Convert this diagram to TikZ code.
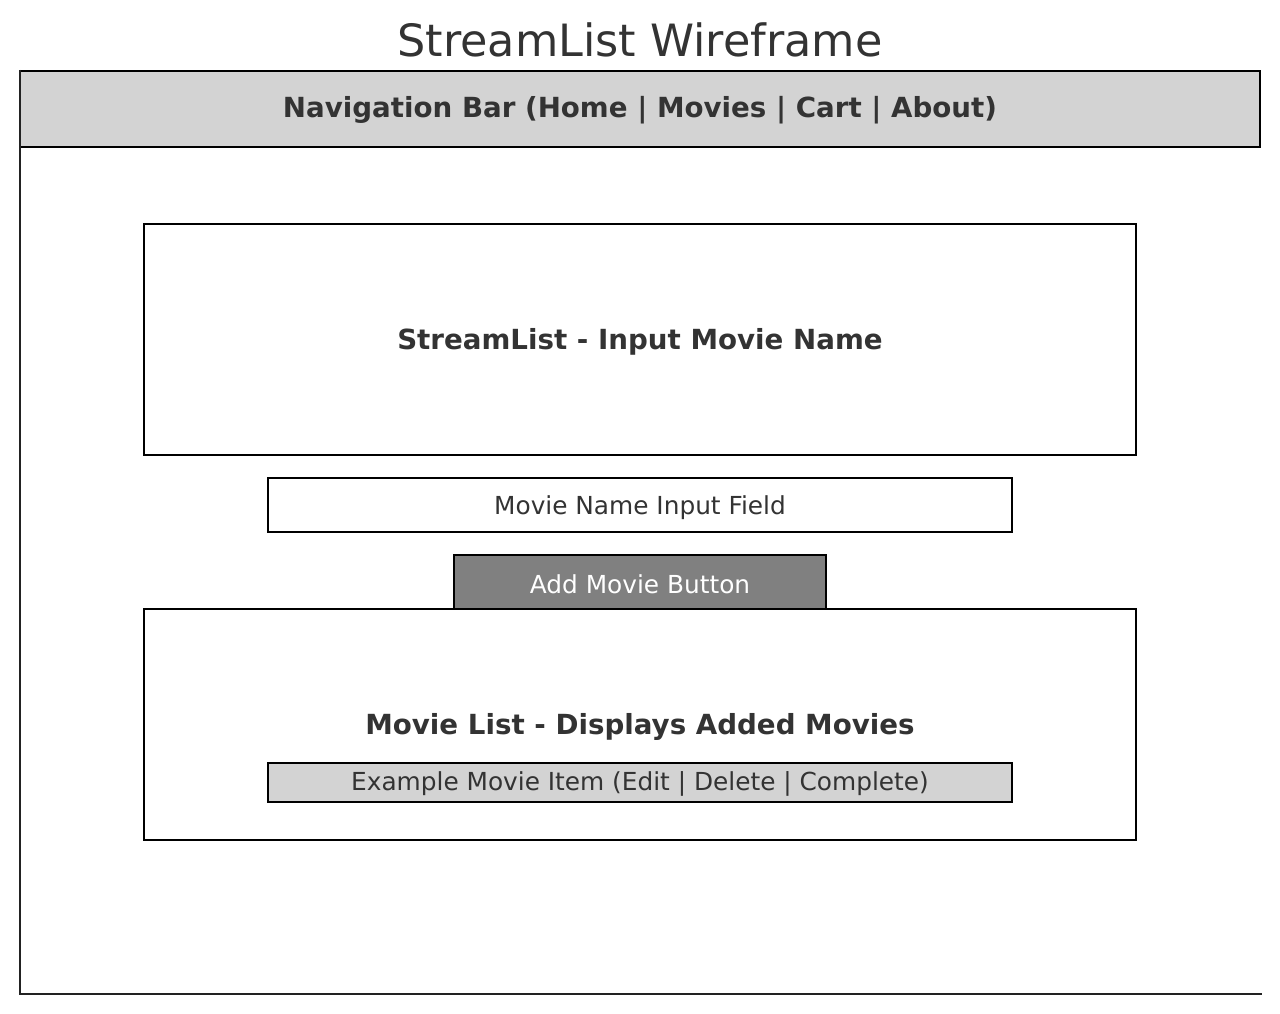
\documentclass[tikz,border=0pt]{standalone}
\usepackage{fontspec}
\setmainfont{DejaVu Sans}
\definecolor{txt}{HTML}{333333}
\definecolor{spine}{HTML}{222222}
\definecolor{lgray}{HTML}{D3D3D3}
\definecolor{mgray}{HTML}{808080}
\begin{document}
\begin{tikzpicture}[x=1pt,y=-1pt,
  box/.style={draw=black,line width=2.7pt},
  titletext/.style={text=txt,font=\fontsize{44.5}{50}\selectfont,inner sep=0pt},
  boldtext/.style={text=txt,font=\fontsize{27.7}{32}\selectfont\bfseries,inner sep=0pt},
  normtext/.style={text=txt,font=\fontsize{24.8}{29}\selectfont,inner sep=0pt},
  spineline/.style={draw=spine,line width=2.7pt}]
\useasboundingbox (0,0) rectangle (1280,1014);
% title
\node[titletext] (title) at (640,39.5) {StreamList Wireframe};
% nav bar
\path[box,fill=lgray] (20,71) rectangle (1260,147);
\node[boldtext] (nav) at (640,110.5) {Navigation Bar (Home | Movies | Cart | About)};
% input section
\path[box] (144,224) rectangle (1136,455);
\node[boldtext] (inhead) at (640,341.5) {StreamList - Input Movie Name};
% input field
\path[box] (268,478) rectangle (1012,532);
\node[normtext] (field) at (640,507.5) {Movie Name Input Field};
% list box
\path[box] (144,609) rectangle (1136,840);
\node[boldtext] (listhead) at (640,726.5) {Movie List - Displays Added Movies};
% button
\path[box,fill=mgray] (454,555) rectangle (826,609);
\node[normtext,text=white] (btn) at (640,584) {Add Movie Button};
% example item
\path[box,fill=lgray] (268,763) rectangle (1012,802);
\node[normtext] (item) at (640,783.5) {Example Movie Item (Edit | Delete | Complete)};
% spines
\coordinate (s1) at (20,70);
\coordinate (s2) at (20,994);
\coordinate (s3) at (1262,994);
\draw[spineline] (s1) -- (s2) -- (s3);
\end{tikzpicture}
\end{document}
